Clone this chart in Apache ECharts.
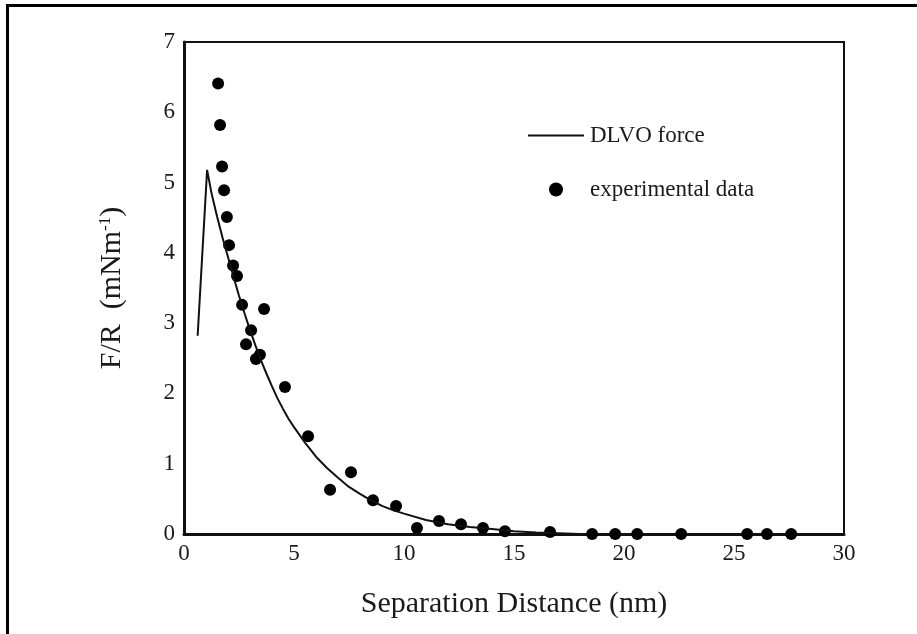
<!DOCTYPE html>
<html>
<head>
<meta charset="utf-8">
<script src="https://cdn.jsdelivr.net/npm/echarts@6/dist/echarts.min.js"></script>
<style>html,body{margin:0;padding:0;background:#fff;}#c{width:917px;height:634px;}</style>
</head>
<body>
<div id="c"></div>
<script>
const xTicks = [0, 5, 10, 15, 20, 25, 30];
const yTicks = [0, 1, 2, 3, 4, 5, 6, 7];
const expX = [1.55, 1.64, 1.73, 1.82, 1.95, 2.05, 2.23, 2.41, 2.64, 3.64, 3.05, 2.82, 3.45, 3.27, 4.59, 5.64, 6.64, 7.59, 8.59, 9.64, 10.59, 11.59, 12.59, 13.59, 14.59, 16.64, 18.55, 19.6, 20.6, 22.6, 25.6, 26.5, 27.6];
const expY = [6.41, 5.82, 5.23, 4.89, 4.51, 4.11, 3.82, 3.67, 3.26, 3.20, 2.90, 2.70, 2.55, 2.49, 2.09, 1.39, 0.63, 0.88, 0.48, 0.40, 0.085, 0.185, 0.14, 0.085, 0.04, 0.03, 0.0, 0.0, 0.0, 0.0, 0.0, 0.0, 0.0];
const dlvoX = [0.62, 1.05, 1.25, 1.5, 1.75, 2.0, 2.25, 2.5, 2.75, 3.0, 3.25, 3.5, 3.75, 4.0, 4.25, 4.5, 4.75, 5.0, 5.5, 6.0, 6.5, 7.0, 7.5, 8.0, 8.5, 9.0, 9.5, 10.0, 11.0, 12.0, 13.0, 14.0, 15.0, 16.0, 17.0, 18.0];
const dlvoY = [2.82, 5.18, 4.85, 4.52, 4.22, 3.94, 3.66, 3.39, 3.14, 2.9, 2.68, 2.47, 2.28, 2.1, 1.93, 1.78, 1.64, 1.52, 1.3, 1.1, 0.94, 0.8, 0.67, 0.57, 0.48, 0.4, 0.34, 0.29, 0.2, 0.14, 0.1, 0.07, 0.04, 0.02, 0.01, 0.0];

const serif = '"Liberation Serif", "Times New Roman", serif';
const chart = echarts.init(document.getElementById('c'), null, {renderer: 'canvas'});
chart.setOption({
  animation: false,
  backgroundColor: '#fff',
  graphic: [{
    type: 'polyline',
    shape: {points: [[7.5, 634], [7.5, 5.5], [917, 5.5]]},
    style: {stroke: '#000', lineWidth: 3, fill: null}
  }],
  grid: {left: 184, right: 73, top: 42, bottom: 100, show: true, borderColor: '#111', borderWidth: 2, backgroundColor: 'transparent'},
  legend: {
    left: 522, top: 119, orient: 'vertical', itemWidth: 56, itemHeight: 14, itemGap: 31,
    textStyle: {fontFamily: serif, fontSize: 23, color: '#1a1a1a', padding: [0, 0, 0, 1]},
    data: [
      {name: 'DLVO force', itemStyle: {opacity: 0}},
      {name: 'experimental data', icon: 'circle'}
    ]
  },
  xAxis: {
    type: 'value', min: 0, max: 30, interval: 5,
    name: 'Separation Distance (nm)', nameLocation: 'middle', nameGap: 55,
    nameTextStyle: {fontFamily: serif, fontSize: 30, color: '#1a1a1a'},
    axisLine: {lineStyle: {color: '#111', width: 3}},
    axisTick: {show: false},
    splitLine: {show: false},
    axisLabel: {fontFamily: serif, fontSize: 23, color: '#1a1a1a', margin: 8,
      customValues: xTicks, formatter: v => String(v)}
  },
  yAxis: {
    type: 'value', min: 0, max: 7, interval: 1,
    name: 'F/R  (mNm{sup|-1})', nameLocation: 'middle', nameGap: 56,
    nameTextStyle: {fontFamily: serif, fontSize: 30, color: '#1a1a1a',
      rich: {sup: {fontFamily: serif, fontSize: 17, color: '#1a1a1a', padding: [0, 0, 14, 0]}}},
    axisLine: {lineStyle: {color: '#111', width: 3}},
    axisTick: {show: false},
    splitLine: {show: false},
    axisLabel: {fontFamily: serif, fontSize: 23, color: '#1a1a1a', margin: 9, padding: [10, 0, 0, 0],
      customValues: yTicks, formatter: v => String(v)}
  },
  series: [
    {
      name: 'DLVO force', type: 'line', symbol: 'none', smooth: false,
      lineStyle: {color: '#111', width: 2},
      itemStyle: {color: '#111'},
      data: dlvoX.map((x, i) => [x, dlvoY[i]])
    },
    {
      name: 'experimental data', type: 'scatter', symbol: 'circle', symbolSize: 12,
      itemStyle: {color: '#000', opacity: 1},
      data: expX.map((x, i) => [x, expY[i]])
    }
  ]
});
</script>
</body>
</html>
